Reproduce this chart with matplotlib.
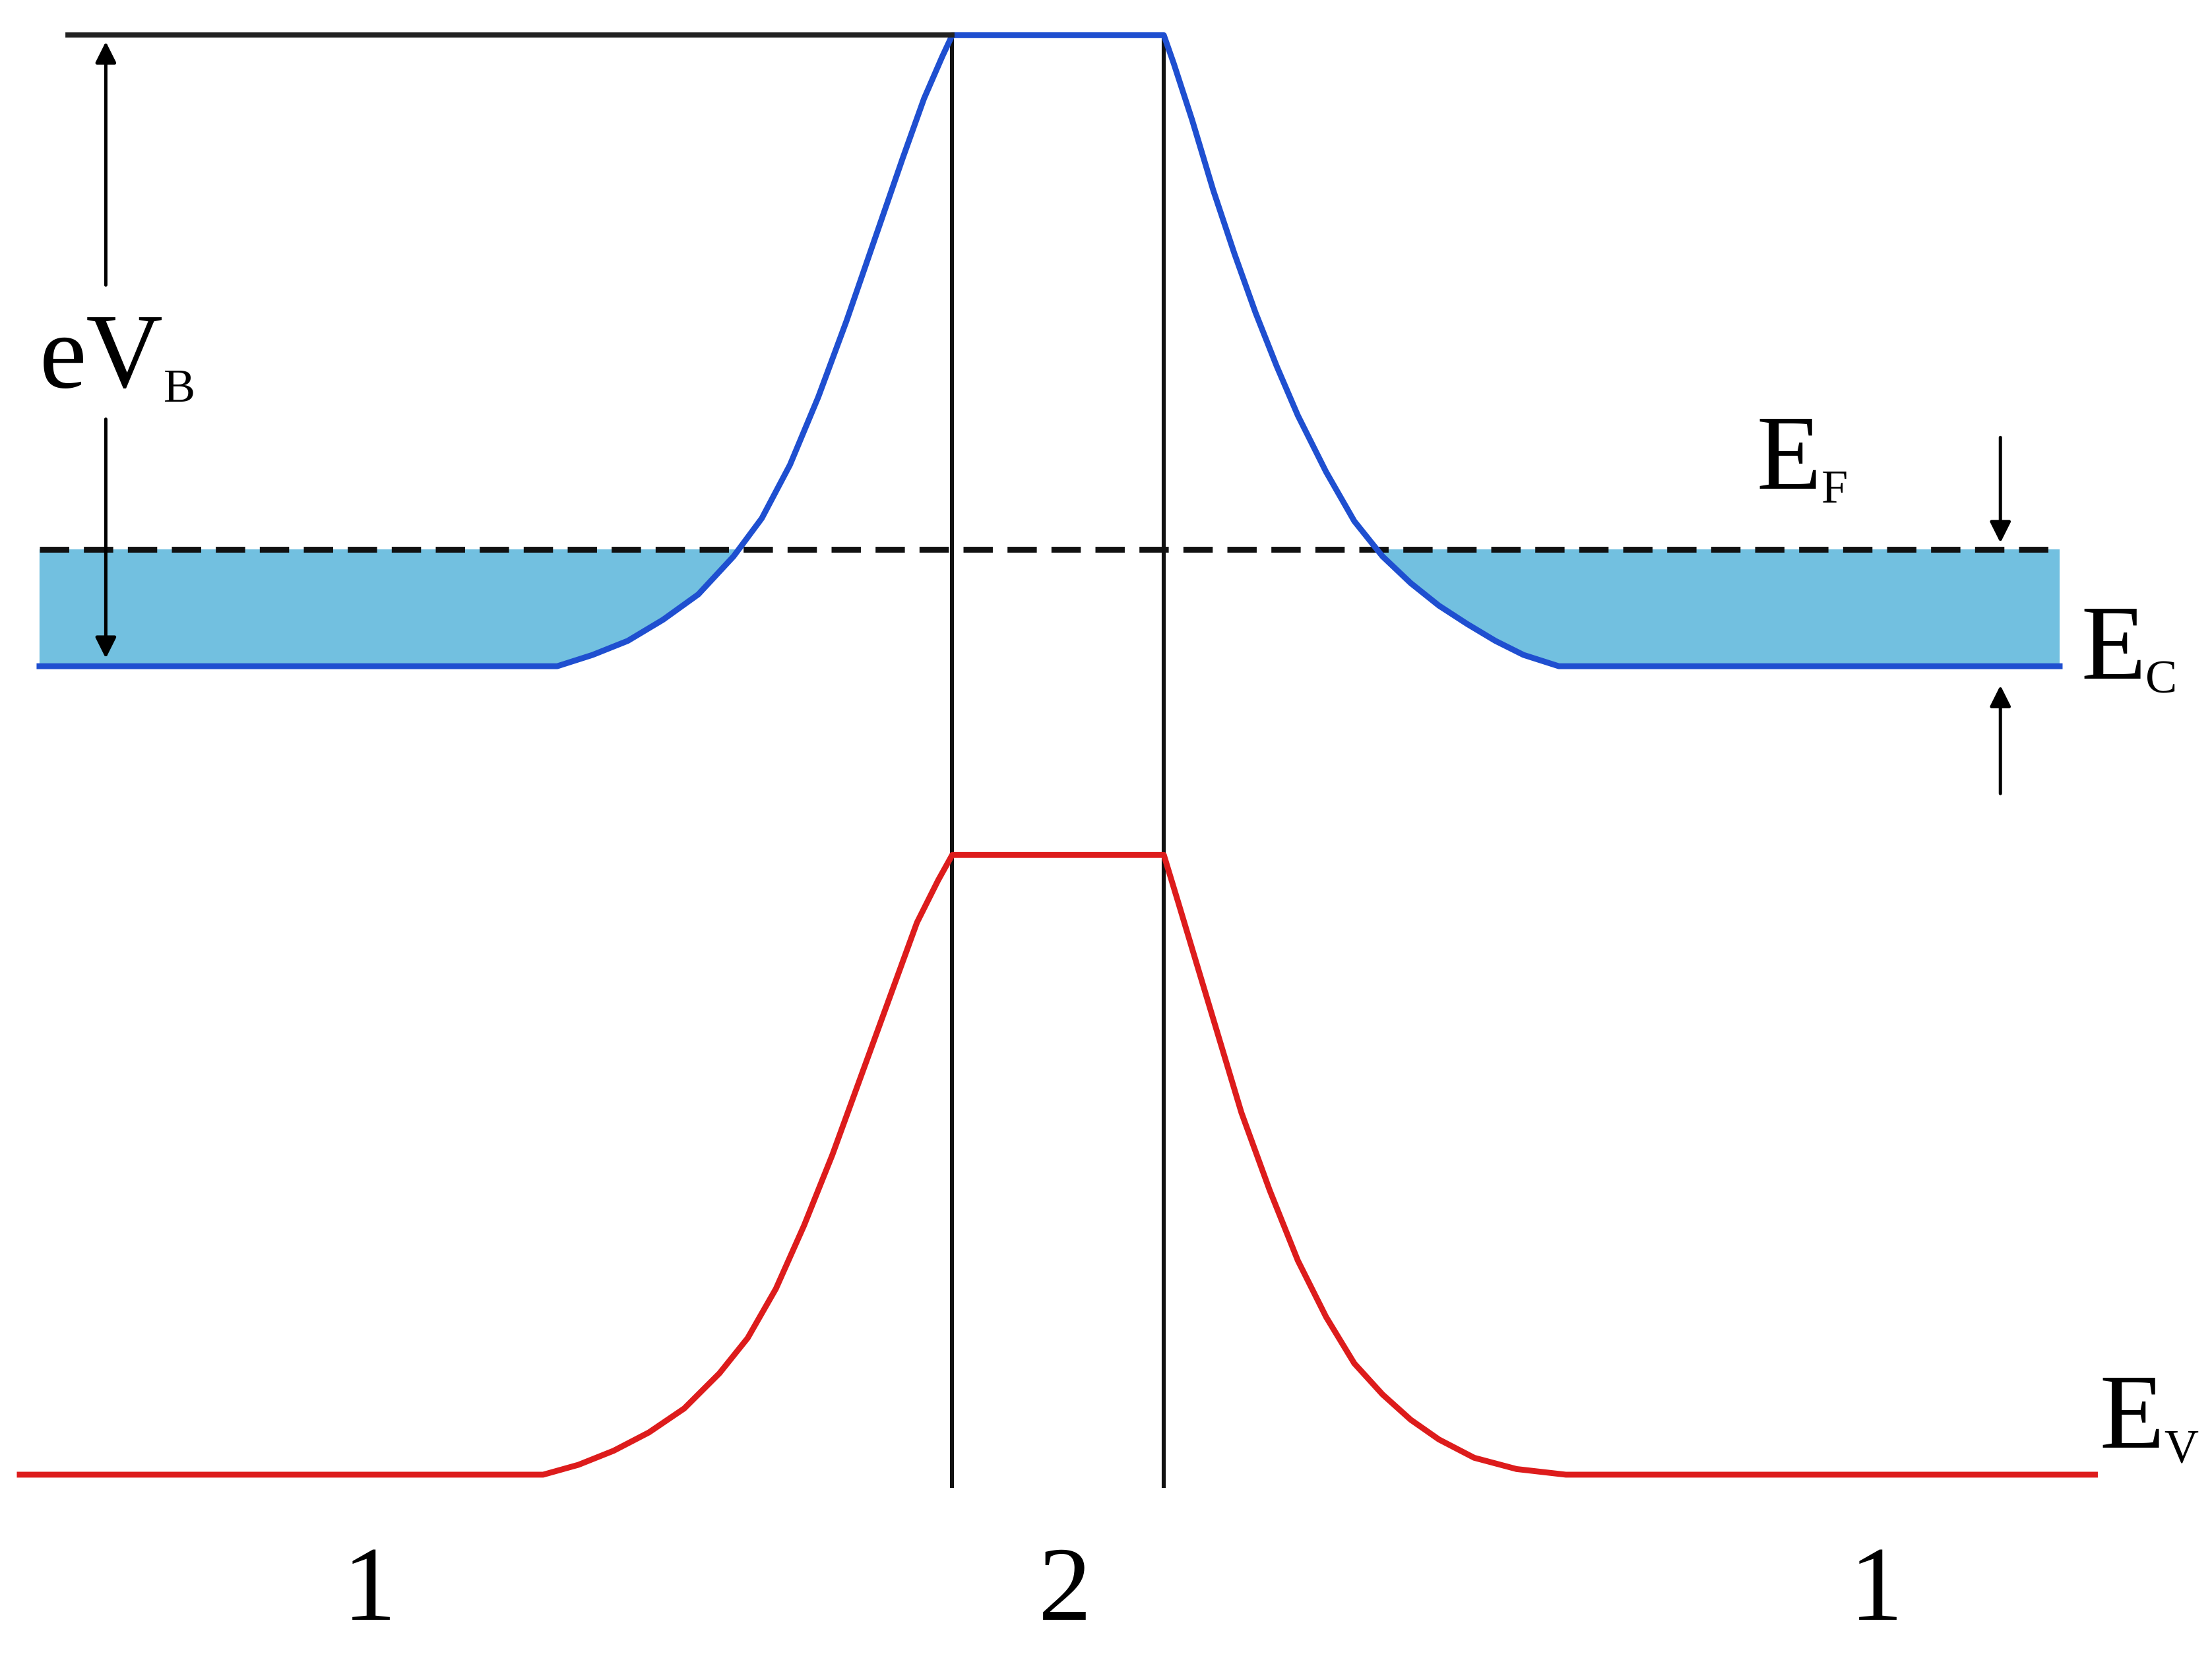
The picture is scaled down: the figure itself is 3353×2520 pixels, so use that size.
import matplotlib
matplotlib.use("Agg")
import matplotlib.pyplot as plt
import numpy as np

plt.rcParams['font.family'] = ['Liberation Serif', 'DejaVu Serif']

# coordinates (x to the right, energy drawn downwards = larger y)
ef_level = 390
top_level = 25

cb_x = [28, 395, 420, 445, 470, 495, 520, 540, 560, 580, 600, 620, 640, 655, 668, 675,
        825, 832, 845, 860, 875, 890, 905, 920, 940, 960, 980, 1000, 1020, 1040, 1060, 1080, 1105, 1460]
cb_y = [473, 473, 465, 455, 440, 422, 395, 368, 330, 282, 228, 170, 112, 70, 40, 25,
        25, 45, 85, 135, 180, 222, 260, 295, 335, 370, 395, 414, 430, 443, 455, 465, 473, 473]

vb_x = [14, 385, 410, 435, 460, 485, 510, 530, 550, 570, 590, 610, 630, 650, 665, 675,
        825, 835, 850, 865, 880, 900, 920, 940, 960, 980, 1000, 1020, 1045, 1075, 1110, 1485]
vb_y = [1047, 1047, 1040, 1030, 1017, 1000, 975, 950, 915, 870, 820, 765, 710, 655, 625, 607,
        607, 640, 690, 740, 790, 845, 895, 935, 968, 990, 1008, 1022, 1035, 1043, 1047, 1047]

region_labels = ['1', '2', '1']
region_x = [262, 755, 1330]

fig = plt.figure(figsize=(16.765, 12.6), dpi=200)
ax = fig.add_axes([0, 0, 1, 1])
ax.set_xlim(0, 1568)
ax.set_ylim(1180, 0)
ax.axis('off')

blue = '#1f4fd0'
red = '#dd1c1c'
fill = '#72c0e0'

cbx = np.array(cb_x, float)
cby = np.array(cb_y, float)
ax.fill_between(cbx, ef_level, cby, where=cby >= ef_level, interpolate=True,
                color=fill, lw=0, zorder=1)
ax.plot(cbx, cby, color=blue, lw=3.2, zorder=3, solid_joinstyle='round')
ax.plot(vb_x, vb_y, color=red, lw=3.2, zorder=3, solid_joinstyle='round')

ax.plot([48, 675], [top_level, top_level], color='#222222', lw=2.8, zorder=3)
for xv in [675, 825]:
    ax.plot([xv, xv], [top_level, 1055], color='#111111', lw=2.2, zorder=2)
ax.plot([28, 1460], [ef_level, ef_level], color='#111111', lw=3.2,
        dashes=(5, 2.5), zorder=2)

ak = dict(arrowstyle='-|>', color='black', lw=1.8, mutation_scale=24)
ax.annotate('', xy=(75, 27), xytext=(75, 205), arrowprops=ak)
ax.annotate('', xy=(75, 470), xytext=(75, 295), arrowprops=ak)
ax.annotate('', xy=(1418, 388), xytext=(1418, 308), arrowprops=ak)
ax.annotate('', xy=(1418, 484), xytext=(1418, 566), arrowprops=ak)

fs = 58
sfs = 26
def label(x, y, main, sub, dx):
    ax.text(x, y, main, fontsize=fs, va='baseline')
    ax.text(x + dx, y + 10, sub, fontsize=sfs, va='baseline')

label(28, 275, 'eV', 'B', 88)
label(1245, 347, 'E', 'F', 46)
label(1475, 482, 'E', 'C', 46)
label(1488, 1028, 'E', 'V', 46)
for lab, xv in zip(region_labels, region_x):
    ax.text(xv, 1150, lab, fontsize=fs, ha='center', va='baseline')

fig.savefig('out.png', dpi=200)
